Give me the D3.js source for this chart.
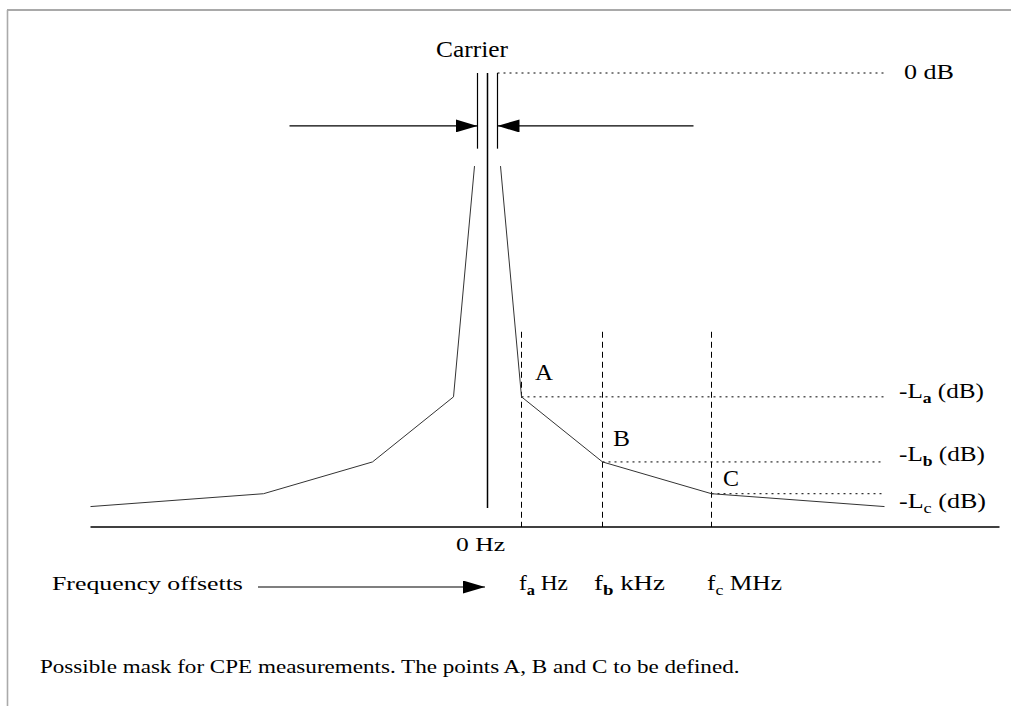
<!DOCTYPE html>
<html>
<head>
<meta charset="utf-8">
<script src="https://cdn.jsdelivr.net/npm/d3@7"></script>
<style>
body { margin: 0; background: #fff; }
text { font-family: "Liberation Serif", "Times New Roman", serif; fill: #000; }
</style>
</head>
<body>
<svg id="chart" width="1011" height="706"></svg>
<script>
// spectrum mask: offset from carrier (arbitrary units, 0 = carrier) and level in dB
var maskOffsets = [-397, -224, -115, -34, -13, 13, 34, 115, 224, 397];
var maskLevels = [-57.3, -55.6, -51.4, -42.8, -12.3, -12.3, -42.8, -51.4, -55.6, -57.3];

// the three points to be defined
var pointNames = ["A", "B", "C"];
var pointOffsets = [34, 115, 224];
var pointLevels = [-42.8, -51.4, -55.6];
var pointSubs = ["a", "b", "c"];
var freqUnits = ["Hz", "kHz", "MHz"];

// carrier marks
var carrierSide = 10;      // the two thin lines either side of the carrier
var carrierFoot = -57.5;   // where the carrier line stops
var sideFoot = -10;
var arrowLevel = -7;
var arrowStarts = [-198, 206];
var dottedEnd = 396;
var axisEnd = 512;
var dashTop = -34.2;

var svg = d3.select("#chart");
var x = d3.scaleLinear().domain([-400, 400]).range([87.5, 887.5]);
var y = d3.scaleLinear().domain([0, -60]).range([73, 527]);

// page frame
svg.append("line").attr("x1", 7).attr("y1", 10).attr("x2", 1011).attr("y2", 10)
    .style("stroke", "#555").style("stroke-width", 1.2);
svg.append("line").attr("x1", 7.5).attr("y1", 10).attr("x2", 7.5).attr("y2", 706)
    .style("stroke", "#aaa").style("stroke-width", 1.6);

var defs = svg.append("defs");
defs.append("marker").attr("id", "head")
    .attr("viewBox", "0 0 22 13").attr("refX", 22).attr("refY", 6.5)
    .attr("markerWidth", 22).attr("markerHeight", 13)
    .attr("markerUnits", "userSpaceOnUse").attr("orient", "auto")
    .append("path").attr("d", "M0,0L22,6.5L0,13Z").style("fill", "#000");

// baseline
svg.append("line")
    .attr("x1", x(maskOffsets[0])).attr("x2", x(axisEnd))
    .attr("y1", y(-60)).attr("y2", y(-60))
    .style("stroke", "#000").style("stroke-width", 1.5);

// dotted level lines
var dotted = [{o: carrierSide, l: 0}].concat(pointOffsets.map(function (o, i) {
    return {o: o, l: pointLevels[i]};
}));
svg.selectAll(".lvl").data(dotted).enter().append("line")
    .attr("x1", function (d) { return x(d.o); })
    .attr("x2", x(dottedEnd))
    .attr("y1", function (d) { return y(d.l); })
    .attr("y2", function (d) { return y(d.l); })
    .style("stroke", "#000").style("stroke-width", 1).style("stroke-dasharray", "2,4");

// dashed verticals at A, B, C
svg.selectAll(".vert").data(pointOffsets).enter().append("line")
    .attr("x1", function (d) { return x(d); }).attr("x2", function (d) { return x(d); })
    .attr("y1", y(dashTop)).attr("y2", y(-60))
    .style("stroke", "#000").style("stroke-width", 1).style("stroke-dasharray", "6,4");

// mask outline, drawn as two halves
var line = d3.line()
    .x(function (d) { return x(d[0]); })
    .y(function (d) { return y(d[1]); });
var pts = maskOffsets.map(function (o, i) { return [o, maskLevels[i]]; });
svg.append("path").datum(pts.slice(0, 5)).attr("d", line)
    .style("fill", "none").style("stroke", "#333").style("stroke-width", 1);
svg.append("path").datum(pts.slice(5)).attr("d", line)
    .style("fill", "none").style("stroke", "#333").style("stroke-width", 1);

// carrier
svg.append("line").attr("x1", x(0)).attr("x2", x(0))
    .attr("y1", y(0)).attr("y2", y(carrierFoot))
    .style("stroke", "#000").style("stroke-width", 1.5);
[-carrierSide, carrierSide].forEach(function (o) {
    svg.append("line").attr("x1", x(o)).attr("x2", x(o))
        .attr("y1", y(0)).attr("y2", y(sideFoot))
        .style("stroke", "#000").style("stroke-width", 1.2);
});
arrowStarts.forEach(function (o) {
    var end = o < 0 ? -carrierSide : carrierSide;
    svg.append("line").attr("x1", x(o)).attr("x2", x(end))
        .attr("y1", y(arrowLevel)).attr("y2", y(arrowLevel))
        .style("stroke", "#000").style("stroke-width", 1.2)
        .attr("marker-end", "url(#head)");
});

// frequency offset arrow
svg.append("line").attr("x1", 258).attr("x2", 485).attr("y1", 587).attr("y2", 587)
    .style("stroke", "#000").style("stroke-width", 1.2)
    .attr("marker-end", "url(#head)");

// text, each piece squeezed/stretched to the width it has in the picture
function label(parts, px, py, size, w) {
    var g = svg.append("g");
    var t = g.append("text").style("font-size", size + "px");
    var shift = 0;
    parts.forEach(function (p) {
        var ts = t.append("tspan").text(p.s);
        var want = p.sub ? Math.round(size * 0.25) : 0;
        if (want !== shift) { ts.attr("dy", want - shift); shift = want; }
        if (p.sub) ts.style("font-size", Math.round(size * 0.7) + "px");
        if (p.b) ts.style("font-weight", "bold");
    });
    var bw = t.node().getComputedTextLength();
    g.attr("transform", "translate(" + px + "," + py + ") scale(" + (w / bw) + ",1)");
}

label([{s: "Carrier"}], 436, 57, 23, 72);
label([{s: "0 dB"}], 904, 79, 20, 50);

var levelY = [398, 461, 508];
var levelW = [85, 86, 87];
pointNames.forEach(function (n, i) {
    label([{s: n}], [535, 613, 723][i], [380, 446, 486][i], 23, [18, 17, 16][i]);
    label([{s: "-L"}, {s: pointSubs[i], sub: true, b: i < 2}, {s: " (dB)"}],
        899, levelY[i], 20, levelW[i]);
    label([{s: "f"}, {s: pointSubs[i], sub: true, b: i < 2}, {s: (i == 1 ? "  " : " ") + freqUnits[i]}],
        [519, 594, 707][i], 590, 20, [49, 71, 75][i]);
});

label([{s: "0 Hz"}], 456, 551, 19, 49);
label([{s: "Frequency offsetts"}], 52, 590, 19, 191);
label([{s: "Possible mask for CPE measurements. The points A, B and C to be defined."}], 40, 673, 18, 700);
</script>
</body>
</html>
